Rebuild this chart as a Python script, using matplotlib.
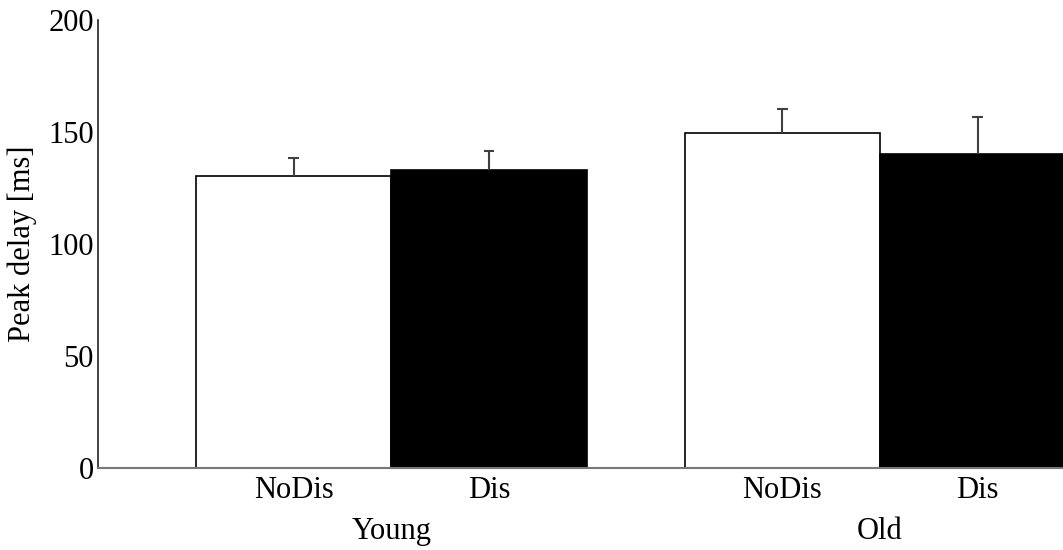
import matplotlib.pyplot as plt

# Values
groups = ["Young", "Old"]
conditions = ["NoDis", "Dis"]
means = [130.4, 132.9, 149.4, 140.0]
errors = [8.0, 8.7, 10.9, 16.6]
bar_colors = ["white", "black", "white", "black"]
tick_labels = ["NoDis", "Dis", "NoDis", "Dis"]

positions = [0.5, 1.5, 3.0, 4.0]
group_centers = [1.0, 3.5]
cap_half = 0.027

plt.rcParams['font.family'] = ['Liberation Serif', 'DejaVu Serif']

fig = plt.figure(figsize=(10.63, 5.5), dpi=100)
ax = fig.add_axes([98 / 1063, 82 / 550, 1 - 98 / 1063, 448 / 550])

ax.bar(positions, means, width=1.0, color=bar_colors, edgecolor="black", linewidth=1.2, zorder=2)

# upper error bars only
tops = [m + e for m, e in zip(means, errors)]
ax.vlines(positions, means, tops, color="#404040", linewidth=1.5, zorder=3)
ax.hlines(tops, [p - cap_half for p in positions], [p + cap_half for p in positions],
          color="#404040", linewidth=1.5, zorder=3)

ax.set_xlim(-0.5, 4.436)
ax.set_ylim(0, 200)
ax.set_yticks([0, 50, 100, 150, 200])
ax.set_xticks(positions)
ax.set_xticklabels(tick_labels)
ax.tick_params(length=0, labelsize=22)
ax.tick_params(axis="y", pad=3)
ax.tick_params(axis="x", pad=6)

for x, name in zip(group_centers, groups):
    ax.text(x, -0.142, name, transform=ax.get_xaxis_transform(), ha="center", va="center",
            fontsize=22)

ax.set_ylabel("Peak delay [ms]", fontsize=22, labelpad=8)

ax.spines["top"].set_visible(False)
ax.spines["right"].set_visible(False)
ax.spines["bottom"].set_color("#777777")
ax.spines["bottom"].set_linewidth(1.5)
ax.spines["left"].set_color("#222222")
ax.spines["left"].set_linewidth(1.2)

fig.savefig("out.png", dpi=100)
